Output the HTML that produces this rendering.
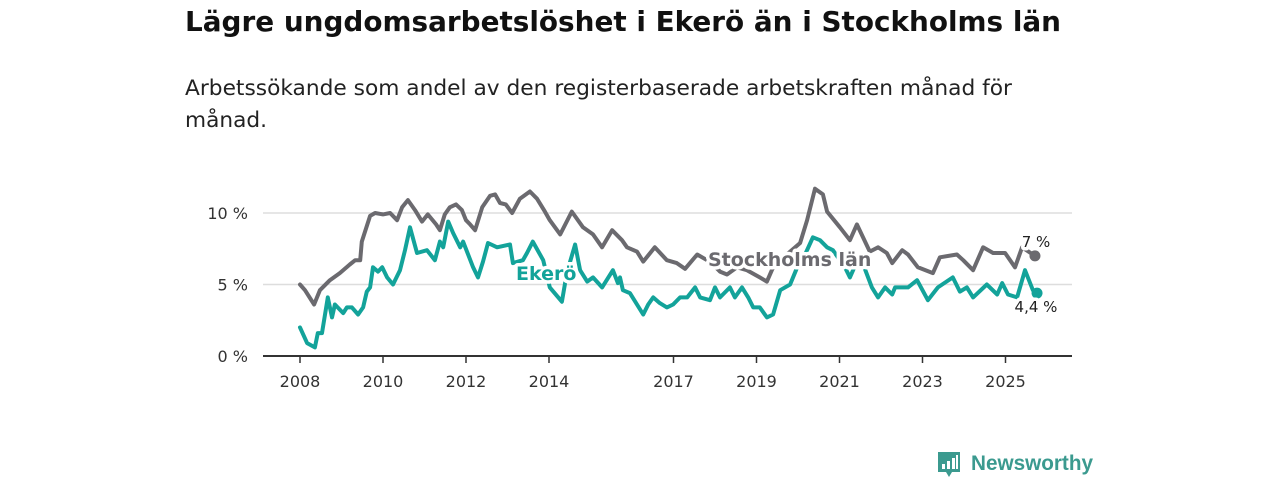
<!DOCTYPE html>
<html lang="sv"><head><meta charset="utf-8"><title>Lägre ungdomsarbetslöshet i Ekerö</title>
<style>
html,body{margin:0;padding:0;background:#fff;width:1280px;height:480px;overflow:hidden}
svg{display:block;font-family:"DejaVu Sans","Liberation Sans",sans-serif}
</style></head><body>
<svg id="chart" width="1280" height="480" viewBox="0 0 1280 480">
<text x="185" y="31" font-size="28" font-weight="bold" fill="#111" textLength="876" lengthAdjust="spacingAndGlyphs">Lägre ungdomsarbetslöshet i Ekerö än i Stockholms län</text>
<text x="185" y="95" font-size="21" fill="#222" textLength="827" lengthAdjust="spacingAndGlyphs">Arbetssökande som andel av den registerbaserade arbetskraften månad för</text>
<text x="185" y="127" font-size="21" fill="#222" textLength="82" lengthAdjust="spacingAndGlyphs">månad.</text>
<g id="grid"></g>
<g id="axes"></g>
<g id="series"></g>
<g id="labels"></g>
<g>
<path d="M938 452 h22 v20 h-8 l-3 5 l-3 -5 h-8 z" fill="#3b9a8f"/>
<rect x="942" y="464" width="3" height="5" fill="#fff"/><rect x="947" y="461" width="3" height="8" fill="#fff"/><rect x="952" y="458" width="3" height="11" fill="#fff"/><rect x="956" y="455" width="2" height="14" fill="#fff"/>
<text x="971" y="470" font-size="21" font-weight="bold" fill="#3b9a8f" textLength="122" lengthAdjust="spacingAndGlyphs" font-family="Liberation Sans, sans-serif">Newsworthy</text>
</g>
</svg>
<script>
const stockholmYears=[2008.00,2008.12,2008.34,2008.48,2008.72,2008.96,2009.20,2009.33,2009.45,2009.49,2009.69,2009.81,2010.00,2010.17,2010.34,2010.46,2010.60,2010.77,2010.94,2011.08,2011.28,2011.37,2011.49,2011.61,2011.76,2011.90,2012.00,2012.10,2012.22,2012.39,2012.58,2012.70,2012.82,2012.96,2013.11,2013.30,2013.54,2013.71,2013.90,2014.02,2014.27,2014.55,2014.82,2015.06,2015.28,2015.52,2015.76,2015.88,2016.12,2016.27,2016.55,2016.84,2017.08,2017.28,2017.57,2017.81,2017.95,2018.12,2018.29,2018.53,2018.77,2019.08,2019.25,2019.40,2019.73,2020.05,2020.22,2020.41,2020.60,2020.70,2021.01,2021.25,2021.42,2021.73,2021.93,2022.14,2022.27,2022.51,2022.65,2022.89,2023.25,2023.42,2023.83,2023.98,2024.22,2024.46,2024.70,2024.99,2025.23,2025.40,2025.71];
const stockholmValues=[5.0,4.6,3.6,4.6,5.3,5.8,6.4,6.7,6.7,8.0,9.8,10.0,9.9,10.0,9.5,10.4,10.9,10.2,9.4,9.9,9.2,8.8,9.9,10.4,10.6,10.2,9.5,9.2,8.8,10.4,11.2,11.3,10.7,10.6,10.0,11.0,11.5,11.0,10.1,9.5,8.5,10.1,9.0,8.5,7.6,8.8,8.1,7.6,7.3,6.6,7.6,6.7,6.5,6.1,7.1,6.7,6.4,5.9,5.7,6.2,6.0,5.5,5.2,6.2,7.1,7.9,9.5,11.7,11.3,10.1,9.0,8.1,9.2,7.3,7.6,7.2,6.5,7.4,7.1,6.2,5.8,6.9,7.1,6.7,6.0,7.6,7.2,7.2,6.2,7.6,7.0];
const ekeroYears=[2008.00,2008.17,2008.36,2008.43,2008.53,2008.67,2008.77,2008.84,2009.04,2009.13,2009.25,2009.40,2009.52,2009.61,2009.69,2009.76,2009.88,2009.98,2010.10,2010.24,2010.41,2010.53,2010.65,2010.82,2011.06,2011.25,2011.37,2011.45,2011.57,2011.69,2011.86,2011.93,2012.17,2012.29,2012.41,2012.53,2012.75,2013.06,2013.13,2013.37,2013.47,2013.61,2013.86,2014.02,2014.31,2014.43,2014.63,2014.75,2014.92,2015.06,2015.28,2015.54,2015.66,2015.71,2015.78,2015.95,2016.12,2016.27,2016.39,2016.51,2016.67,2016.84,2016.99,2017.16,2017.33,2017.52,2017.64,2017.88,2018.00,2018.12,2018.36,2018.48,2018.65,2018.80,2018.92,2019.08,2019.25,2019.40,2019.57,2019.81,2019.98,2020.17,2020.36,2020.53,2020.70,2020.84,2021.13,2021.25,2021.42,2021.57,2021.78,2021.93,2022.10,2022.27,2022.34,2022.65,2022.87,2023.13,2023.37,2023.73,2023.90,2024.07,2024.22,2024.55,2024.80,2024.92,2025.06,2025.28,2025.47,2025.66,2025.76];
const ekeroValues=[2.0,0.9,0.6,1.6,1.6,4.1,2.7,3.6,3.0,3.4,3.4,2.9,3.4,4.5,4.8,6.2,5.9,6.2,5.5,5.0,6.0,7.4,9.0,7.2,7.4,6.7,8.0,7.6,9.4,8.6,7.6,8.0,6.2,5.5,6.6,7.9,7.6,7.8,6.5,6.7,7.2,8.0,6.7,4.8,3.8,5.8,7.8,6.0,5.2,5.5,4.8,6.0,5.1,5.5,4.6,4.4,3.6,2.9,3.6,4.1,3.7,3.4,3.6,4.1,4.1,4.8,4.1,3.9,4.8,4.1,4.8,4.1,4.8,4.1,3.4,3.4,2.7,2.9,4.6,5.0,6.2,7.1,8.3,8.1,7.6,7.4,6.2,5.5,6.6,6.4,4.8,4.1,4.8,4.3,4.8,4.8,5.3,3.9,4.8,5.5,4.5,4.8,4.1,5.0,4.3,5.1,4.3,4.1,6.0,4.6,4.4];
const yTicks=[0,5,10];
const yTickLabels=["0 %","5 %","10 %"];
const xTicks=[2008,2010,2012,2014,2017,2019,2021,2023,2025];
const xTickLabels=["2008","2010","2012","2014","2017","2019","2021","2023","2025"];

const NS="http://www.w3.org/2000/svg";
const X0=263,X1=1072,Y0=356;
function xScale(y){return 300+(y-2008)*41.5;}
function yScale(v){return Y0-v*14.3;}
function mk(tag,attrs,parent){const e=document.createElementNS(NS,tag);for(const k in attrs)e.setAttribute(k,attrs[k]);parent.appendChild(e);return e;}
const grid=document.getElementById('grid'),axes=document.getElementById('axes'),series=document.getElementById('series'),labels=document.getElementById('labels');
yTicks.forEach((t,i)=>{
  if(t>0){const l=mk('line',{x1:X0,x2:X1,y1:yScale(t),y2:yScale(t),stroke:'#ddd','stroke-width':1.5},grid);
  
  }
  const tx=mk('text',{x:248,y:yScale(t)+6,'text-anchor':'end','font-size':16,fill:'#333'},axes);
  tx.textContent=yTickLabels[i];
  
  
});
const ax=mk('line',{x1:X0,x2:X1,y1:Y0,y2:Y0,stroke:'#333','stroke-width':2},axes);


xTicks.forEach((t,i)=>{
  const tk=mk('line',{x1:xScale(t),x2:xScale(t),y1:Y0,y2:Y0+7,stroke:'#333','stroke-width':1.5},axes);
  
  
  const tx=mk('text',{x:xScale(t),y:387,'text-anchor':'middle','font-size':16,fill:'#333'},axes);
  tx.textContent=xTickLabels[i];
  
  
});
function line(xs,vs,color,name){
  const d=xs.map((x,i)=>(i?'L':'M')+xScale(x).toFixed(1)+' '+yScale(vs[i]).toFixed(1)).join(' ');
  const p=mk('path',{d:d,fill:'none',stroke:color,'stroke-width':4,'stroke-linejoin':'round','stroke-linecap':'round'},series);
  
  
  const n=xs.length-1;
  const c=mk('circle',{cx:xScale(xs[n]),cy:yScale(vs[n]),r:5.5,fill:color},series);
  
  
}
line(stockholmYears,stockholmValues,'#6b6a6f','stockholm-line');
line(ekeroYears,ekeroValues,'#13a39a','ekero-line');
function lbl(x,y,txt,color,size,bold,name,anchor){
  const h=mk('text',{x:x,y:y,'font-size':size,'font-weight':bold?'bold':'normal',fill:'none',stroke:'#fff','stroke-width':7,'stroke-linejoin':'round','text-anchor':anchor||'start'},labels);
  h.textContent=txt;
  
  
  const t=mk('text',{x:x,y:y,'font-size':size,'font-weight':bold?'bold':'normal',fill:color,'text-anchor':anchor||'start'},labels);
  t.textContent=txt;
  
  
}
lbl(516,280,'Ekerö','#13a39a',19,true,'ekero-label');
lbl(708,266,'Stockholms län','#6b6a6f',19,true,'stockholm-label');
const sn=stockholmValues.length-1,en=ekeroValues.length-1;
lbl(1036,247,(Math.round(stockholmValues[sn]*10)/10).toString().replace('.',',')+' %','#222',15,false,'stockholm-end-value','middle');
lbl(1036,312,(Math.round(ekeroValues[en]*10)/10).toString().replace('.',',')+' %','#222',15,false,'ekero-end-value','middle');
</script>
</body></html>
